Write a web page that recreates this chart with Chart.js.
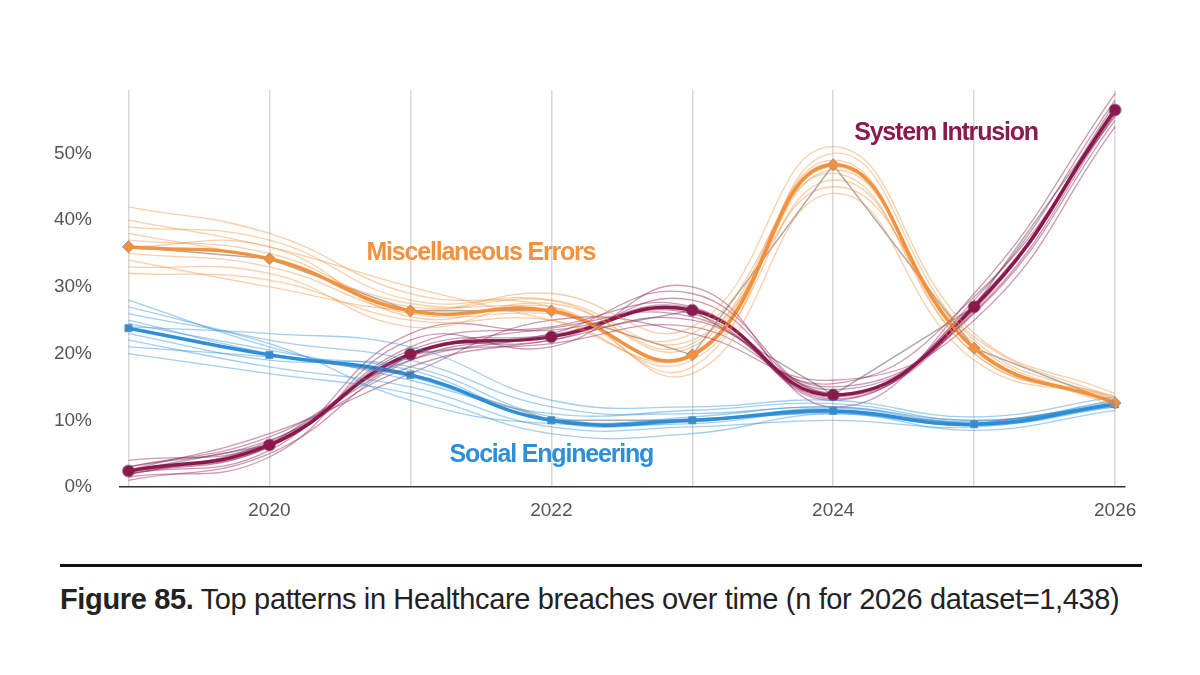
<!DOCTYPE html>
<html><head><meta charset="utf-8">
<script src="https://cdn.jsdelivr.net/npm/chart.js@4/dist/chart.umd.min.js"></script>
<style>
html,body{margin:0;padding:0;background:#fff;width:1200px;height:675px;overflow:hidden;font-family:"Liberation Sans",Arial,sans-serif}
#wrap{position:absolute;left:0;top:0;width:1200px;height:540px}
#rule{position:absolute;left:60px;top:564px;width:1082px;height:3px;background:#111}
#cap{position:absolute;left:60px;top:583px;font-size:29px;color:#222;letter-spacing:-0.35px;white-space:nowrap}
</style></head><body>
<div id="wrap"><canvas id="c"></canvas></div>
<div id="rule"></div>
<div id="cap"><b>Figure 85.</b> Top patterns in Healthcare breaches over time (n for 2026 dataset=1,438)</div>
<script>
const years = [2019,2020,2021,2022,2023,2024,2025,2026];
const tickYears = [2020,2022,2024,2026];
const yTicks = [0,10,20,30,40,50];
const miscErrors = [36,34.2,26.4,26.4,19.8,48.3,20.8,12.6];
const systemIntrusion = [2.4,6.3,19.9,22.5,26.5,13.8,27,56.5];
const socialEngineering = [23.8,19.8,16.8,10,10,11.4,9.4,12.4];
const miscVariants = [
 [42,38,29,27,18,50,22,13],
 [39,37,28,28,21,48,21,12.5],
 [35,33,26,26,23,47,20,13],
 [32,31,25,25,19,46,21,12],
 [37,35,27,29,24,51,23,14],
 [33,32,24,27,17,44,19,13.5],
 [40,36,30,25,20,49,20.5,12.8],
 [34,30,26.5,28,22,45,22.5,13.2],
 [38,34,27.5,26.5,19.5,47.5,21.5,12.4],
 [36,36,25.5,27.5,21.5,48.5,20,13.6]
];
const sysVariants = [
 [1,5,19,23,29,14,27,57],
 [2,6,21,24,27,13,28,58],
 [3,7,18,22,25,15,26,55],
 [1.5,4.5,22,21,30,12,29,59],
 [2.5,8,17,25,23,16,25,54],
 [4,6.5,20,22,28,14,27.5,56],
 [2,5.5,23,23.5,26,13.5,26.5,57.5],
 [3,7.5,19,21.5,24,15.5,28.5,55.5],
 [2.2,6,20.5,22.8,26.8,13.2,27.2,56.8],
 [1.8,6.8,19.5,23.8,25.5,14.6,26.2,55.8]
];
const socVariants = [
 [27,22,19,12,11,12,10,12],
 [25,20,17,10,10,11,9.5,13],
 [22,18,15,9,9,10,9,12],
 [20,17,14,8,8,11,8.5,11.5],
 [24,23,21,13,12,13,10.5,13.5],
 [28,21,16,11,11.5,12.5,10,12.5],
 [23,19,18,10.5,9.5,11.5,9.2,12.2],
 [26,21.5,13,9.5,10.5,12,9.8,12.8],
 [24.5,20.5,16.5,10.2,10.2,11.2,9.4,12.4],
 [21,19.5,17.5,9.8,9.8,11.8,9.6,12.6]
];
const ORANGE='#f2923f', MAROON='#8c1a4e', BLUE='#2d8fd8';
const pts = arr => arr.map((v,i)=>({x:years[i],y:v}));
const ds = [];
function bundle(vars,color){
  vars.forEach(v=>ds.push({data:pts(v),borderColor:color+'70',borderWidth:1.3,pointRadius:0,tension:0.45,fill:false}));
}
bundle(miscVariants,ORANGE); bundle(socVariants,BLUE); bundle(sysVariants,MAROON);
function main(arr,color,style,r){
  ds.push({data:pts(arr),borderColor:color,borderWidth:3.5,pointRadius:0,tension:0.45});
  ds.push({data:pts(arr),borderColor:'rgba(150,150,150,0.8)',borderWidth:1.5,tension:0,pointStyle:style,pointRadius:r,pointBackgroundColor:color,pointBorderColor:'rgba(140,140,140,0.9)',pointBorderWidth:1});
}
main(miscErrors,ORANGE,'rectRot',6);
main(socialEngineering,BLUE,'rect',5);
main(systemIntrusion,MAROON,'circle',6);
const labels = {id:'labels',afterDatasetsDraw(ch){
  const c=ch.ctx,x=ch.scales.x,y=ch.scales.y;
  c.save();c.font='bold 25px "Liberation Sans",Arial';c.letterSpacing='-1.2px';c.textAlign='center';c.textBaseline='middle';
  [['System Intrusion',2024.8,53.1,MAROON],['Miscellaneous Errors',2021.5,35.0,ORANGE],['Social Engineering',2022,4.8,BLUE]].forEach(([t,a,b,col])=>{c.fillStyle=col;c.fillText(t,x.getPixelForValue(a),y.getPixelForValue(b));});
  c.restore();
}};
new Chart(document.getElementById('c'),{type:'line',data:{datasets:ds},
 options:{responsive:true,maintainAspectRatio:false,animation:false,
  layout:{padding:{top:90,right:75,left:0,bottom:0}},
  plugins:{legend:{display:false},tooltip:{enabled:false}},
  scales:{
   x:{type:'linear',min:2018.94,max:2026.07,
     afterBuildTicks(s){s.ticks=years.map(v=>({value:v}));},
     afterFit(s){s.height=53;},
     grid:{color:'#d8d8d8',lineWidth:1.5,drawTicks:false},
     border:{color:'#333',width:1.5},
     ticks:{padding:12,color:'#555',font:{size:19,family:'"Liberation Sans",Arial'},callback:v=>tickYears.includes(v)?String(v):''}},
   y:{min:0,max:59.5,
     afterBuildTicks(s){s.ticks=yTicks.map(v=>({value:v}));},
     afterFit(s){s.width=120;},
     grid:{display:false},border:{display:false},
     ticks:{padding:20,color:'#555',font:{size:19,family:'"Liberation Sans",Arial'},callback:v=>v+'%'}}
  }},plugins:[labels]});
</script></body></html>
